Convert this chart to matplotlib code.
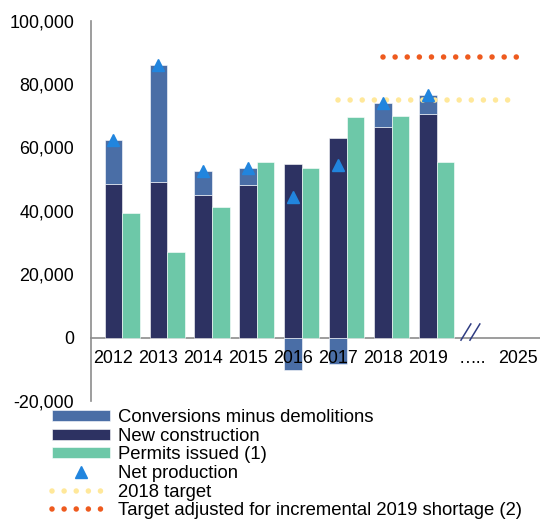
import matplotlib
matplotlib.use("Agg")
import matplotlib.pyplot as plt
from matplotlib.patches import Patch
from matplotlib.lines import Line2D
import numpy as np

plt.rcParams['font.family'] = ['Liberation Sans', 'DejaVu Sans']

categories = ['2012', '2013', '2014', '2015', '2016', '2017', '2018', '2019', '…..', '2025']
bar_years = ['2012', '2013', '2014', '2015', '2016', '2017', '2018', '2019']
new_construction = [48500, 49200, 45100, 48100, 54800, 63000, 66500, 70500]
conversions = [13900, 36700, 7500, 5400, -10300, -8400, 7400, 6100]
permits = [39200, 26900, 41100, 55400, 53500, 69600, 69900, 55500]
net_production = [62400, 85900, 52600, 53500, 44500, 54600, 73900, 76600]
target_2018_years = ['2017', '2018', '2019', '…..', '2025']
target_2018 = [75000, 75000, 75000, 75000, 75000]
target_adj_years = ['2018', '2019', '…..', '2025']
target_adj = [88500, 88500, 88500, 88500]

C_CONV = '#4A6EA6'
C_NEW = '#2D3262'
C_PERM = '#6DC8A8'
C_NET = '#2185DE'
C_T18 = '#FFE89A'
C_TADJ = '#EE5A1E'
C_AXIS = '#8C8C8C'

fig = plt.figure(figsize=(5.40, 5.19), dpi=100)
ax = fig.add_axes([91/540, 1 - 401/519, 1 - 91/540, (401 - 20.7)/519])

idx = {c: i for i, c in enumerate(categories)}
xb = np.array([idx[y] for y in bar_years], dtype=float)
w = 0.39

nc = np.array(new_construction, dtype=float)
cv = np.array(conversions, dtype=float)
bottoms = np.where(cv >= 0, nc, 0)

ax.bar(xb, nc, width=w, color=C_NEW, edgecolor='white', linewidth=0.4, zorder=2)
ax.bar(xb, cv, width=w, bottom=bottoms, color=C_CONV, edgecolor='white', linewidth=0.4, zorder=2)
ax.bar(xb + w, permits, width=w, color=C_PERM, edgecolor='white', linewidth=0.4, zorder=2)
ax.plot(xb, net_production, linestyle='none', marker='^', markersize=8, color=C_NET, zorder=4)

dot_ls = (0, (0.001, 2.18))
x18 = [idx[y] for y in target_2018_years]
ax.plot(x18, target_2018, color=C_T18, linewidth=4, linestyle=dot_ls,
        dash_capstyle='round', solid_capstyle='round', zorder=3)
xadj = [idx[y] for y in target_adj_years]
ax.plot(xadj, target_adj, color=C_TADJ, linewidth=4, linestyle=dot_ls,
        dash_capstyle='round', solid_capstyle='round', zorder=3)

ax.set_xlim(-0.5, 9.5)
ax.set_ylim(-20000, 100000)
ax.set_yticks(np.arange(-20000, 100001, 20000))
ax.yaxis.set_major_formatter(matplotlib.ticker.FuncFormatter(lambda v, p: f'{int(v):,}'))
ax.set_xticks(range(len(categories)))
ax.set_xticklabels(categories)
ax.tick_params(axis='y', length=0, pad=12, labelsize=12.9, colors='black')
ax.tick_params(axis='x', length=0, pad=9, labelsize=12.9, colors='black')
ax.xaxis.set_zorder(6)

for s in ['top', 'right']:
    ax.spines[s].set_visible(False)
ax.spines['left'].set_color(C_AXIS)
ax.spines['left'].set_linewidth(1.2)
ax.spines['bottom'].set_position(('data', 0))
ax.spines['bottom'].set_color(C_AXIS)
ax.spines['bottom'].set_linewidth(1.2)
ax.spines['bottom'].set_zorder(1)

# axis break marks
for dx in (0.0, 0.2):
    ax.plot([7.74 + dx, 7.96 + dx], [-800, 4300], color='#2F3C82', linewidth=1.1,
            clip_on=False, zorder=5)

handles = [
    Patch(facecolor=C_CONV, edgecolor='white', linewidth=0.4),
    Patch(facecolor=C_NEW, edgecolor='white', linewidth=0.4),
    Patch(facecolor=C_PERM, edgecolor='white', linewidth=0.4),
    Line2D([], [], linestyle='none', marker='^', markersize=8, color=C_NET),
    Line2D([], [], color=C_T18, linewidth=4, linestyle=dot_ls, dash_capstyle='round'),
    Line2D([], [], color=C_TADJ, linewidth=4, linestyle=dot_ls, dash_capstyle='round'),
]
labels = ['Conversions minus demolitions', 'New construction', 'Permits issued (1)',
          'Net production', '2018 target', 'Target adjusted for incremental 2019 shortage (2)']
fig.legend(handles, labels, loc='upper left', bbox_to_anchor=(52/540, 1 - 409/519),
           frameon=False, fontsize=13.3, handlelength=3.15, handleheight=0.55,
           handletextpad=0.4, labelspacing=0.09, borderpad=0, borderaxespad=0)

fig.savefig('out.png', dpi=100)
